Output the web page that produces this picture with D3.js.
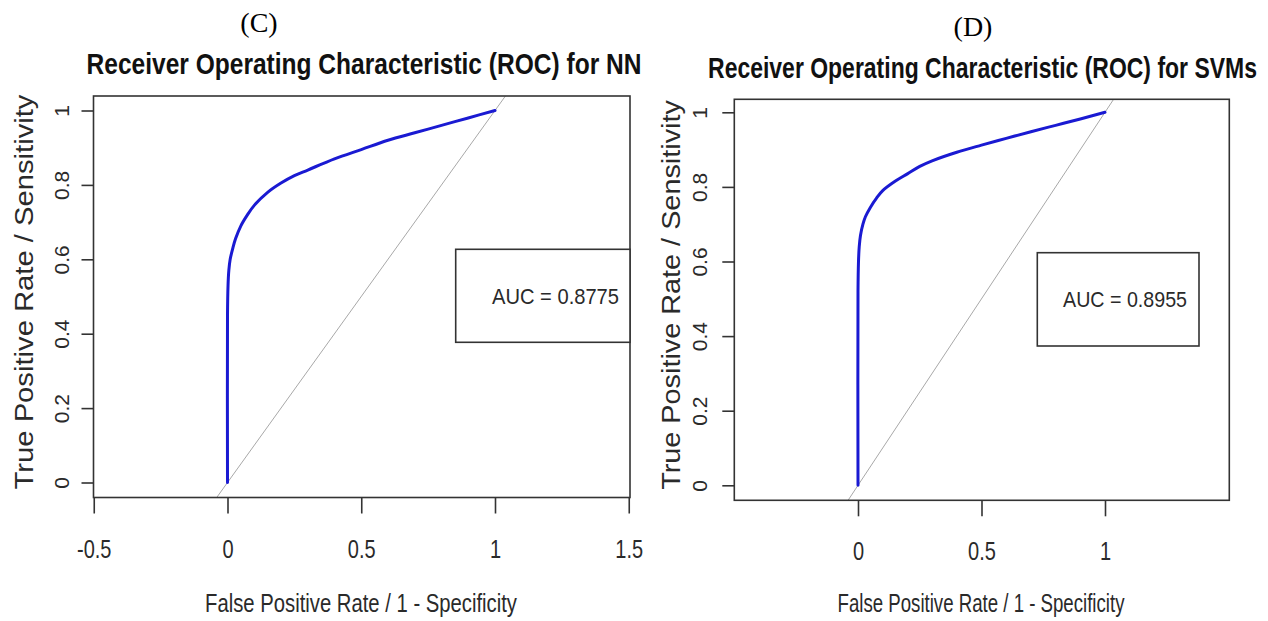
<!DOCTYPE html>
<html><head><meta charset="utf-8">
<script src="https://cdn.jsdelivr.net/npm/d3@7"></script>
<style>body{margin:0;background:#fff;} svg{display:block;background:#fff}</style>
</head><body>
<svg id="chart" width="1268" height="621"></svg>
<script>
// ---- data ----
const panelLabels = ["(C)", "(D)"];
const titles = ["Receiver Operating Characteristic (ROC) for NN", "Receiver Operating Characteristic (ROC) for SVMs"];
const aucLabels = ["AUC = 0.8775", "AUC = 0.8955"];
const xAxisTitle = "False Positive Rate / 1 - Specificity";
const yAxisTitle = "True Positive Rate / Sensitivity";

const nnFpr = [0, 0, 0.002, 0.005, 0.01, 0.02, 0.03, 0.05, 0.075, 0.1, 0.15, 0.2, 0.25, 0.3, 0.4, 0.5, 0.6, 0.7, 0.8, 0.9, 1.0];
const nnTpr = [0, 0.45, 0.53, 0.57, 0.6, 0.63, 0.655, 0.69, 0.72, 0.745, 0.78, 0.805, 0.825, 0.84, 0.87, 0.895, 0.92, 0.94, 0.96, 0.98, 1.0];

const svmFpr = [0, 0, 0.002, 0.005, 0.01, 0.02, 0.03, 0.05, 0.075, 0.1, 0.15, 0.2, 0.25, 0.3, 0.4, 0.5, 0.6, 0.7, 0.8, 0.9, 1.0];
const svmTpr = [0, 0.52, 0.6, 0.64, 0.67, 0.7, 0.72, 0.745, 0.77, 0.79, 0.815, 0.835, 0.855, 0.87, 0.893, 0.912, 0.93, 0.948, 0.965, 0.982, 1.0];

const xTicksNN = [-0.5, 0, 0.5, 1, 1.5];
const xTicksSVM = [0, 0.5, 1];
const yTicks = [0, 0.2, 0.4, 0.6, 0.8, 1];

// ---- layout ----
const panels = [
  { label: panelLabels[0], title: titles[0], auc: aucLabels[0], fpr: nnFpr, tpr: nnTpr, xTicks: xTicksNN,
    box: {l: 93.5, r: 630, t: 96, b: 497.5}, px0: 227.5, px1: 495, py0: 482.5, py1: 110.5,
    labelX: 259, labelY: 32, titleX: 364, titleW: 555, titleY: 74,
    yTitleX: 33, yTitleCY: 292, yTitleLen: 395, yTickOff: 25,
    xTitleX: 361, xTitleLen: 312,
    legend: {l: 455.7, t: 249.3, r: 630, b: 342.3}, legendTextR: 619, legendTextW: 127 },
  { label: panelLabels[1], title: titles[1], auc: aucLabels[1], fpr: svmFpr, tpr: svmTpr, xTicks: xTicksSVM,
    box: {l: 734.3, r: 1229.3, t: 99.3, b: 500.3}, px0: 858, px1: 1105, py0: 485.3, py1: 112.3,
    labelX: 973, labelY: 36, titleX: 982.5, titleW: 549, titleY: 78,
    yTitleX: 680, yTitleCY: 295, yTitleLen: 390, yTickOff: 27,
    xTitleX: 981, xTitleLen: 287,
    legend: {l: 1037.3, t: 252.7, r: 1199, b: 346}, legendTextR: 1187, legendTextW: 124 }
];

const NARROW = "'Liberation Sans Narrow','Arial Narrow','Liberation Sans',Arial,sans-serif";
const REG = "'Liberation Sans',Arial,sans-serif";
const TXT = "#2a2a2a";

const svg = d3.select("#chart");

// place a text so that its rendered length equals targetLen, via a horizontal scale
function fitText(sel, tx, ty, rot, targetLen) {
  sel.attr("x", 0).attr("y", 0);
  const w = sel.node().getComputedTextLength();
  const k = w > 0 ? targetLen / w : 1;
  sel.attr("transform", `translate(${tx},${ty})` + (rot ? ` rotate(${rot})` : "") + ` scale(${k},1)`);
}

panels.forEach((p, i) => {
  const g = svg.append("g");
  const b = p.box;
  const xa = d3.scaleLinear().domain([0, 1]).range([p.px0, p.px1]);
  const ya = d3.scaleLinear().domain([0, 1]).range([p.py0, p.py1]);
  const x = d3.scaleLinear().domain([xa.invert(b.l), xa.invert(b.r)]).range([b.l, b.r]);
  const y = d3.scaleLinear().domain([ya.invert(b.b), ya.invert(b.t)]).range([b.b, b.t]);

  const clipId = "clip" + i;
  svg.append("defs").append("clipPath").attr("id", clipId)
    .append("rect").attr("x", b.l).attr("y", b.t).attr("width", b.r - b.l).attr("height", b.b - b.t);

  // diagonal reference line
  const [ylo, yhi] = y.domain();
  g.append("line").attr("clip-path", `url(#${clipId})`)
    .attr("x1", x(ylo)).attr("y1", y(ylo)).attr("x2", x(yhi)).attr("y2", y(yhi))
    .attr("stroke", "#a8a8a8").attr("stroke-width", 1);

  // ROC curve
  const pts = p.fpr.map((f, k) => [f, p.tpr[k]]);
  g.append("path").datum(pts)
    .attr("d", d3.line().x(d => x(d[0])).y(d => y(d[1])).curve(d3.curveCatmullRom.alpha(0.5)))
    .attr("fill", "none").attr("stroke", "#1a1ad2").attr("stroke-width", 3)
    .attr("stroke-linejoin", "round").attr("stroke-linecap", "round");

  // plot box
  g.append("rect").attr("x", b.l).attr("y", b.t).attr("width", b.r - b.l).attr("height", b.b - b.t)
    .attr("fill", "none").attr("stroke", "#333").attr("stroke-width", 1.6);

  // x axis
  const xAxis = g.append("g").attr("transform", `translate(0,${b.b})`)
    .call(d3.axisBottom(x).tickValues(p.xTicks).tickSize(16).tickSizeOuter(0)
      .tickFormat(d => String(d)));
  xAxis.select(".domain").remove();
  xAxis.selectAll(".tick line").attr("stroke", "#333").attr("stroke-width", 1.6);
  xAxis.selectAll(".tick text").attr("font-family", REG).attr("font-size", 25).attr("fill", TXT)
    .attr("dy", 0).attr("y", 0).attr("transform", "translate(0,60) scale(0.8,1)");

  // y axis
  const yAxis = g.append("g").attr("transform", `translate(${b.l},0)`)
    .call(d3.axisLeft(y).tickValues(yTicks).tickSize(12).tickSizeOuter(0).tickFormat(d => String(d)));
  yAxis.select(".domain").remove();
  yAxis.selectAll(".tick line").attr("stroke", "#333").attr("stroke-width", 1.6);
  yAxis.selectAll(".tick text").attr("font-family", REG).attr("font-size", 21).attr("fill", TXT)
    .attr("text-anchor", "middle").attr("transform", "rotate(-90)")
    .attr("x", 0).attr("dy", 0).attr("y", -p.yTickOff);

  // axis titles
  const xt = g.append("text").attr("text-anchor", "middle")
    .attr("font-family", REG).attr("font-size", 25).attr("fill", TXT).text(xAxisTitle);
  fitText(xt, p.xTitleX, 612, 0, p.xTitleLen);
  const yt = g.append("text").attr("text-anchor", "middle")
    .attr("font-family", REG).attr("font-size", 26).attr("fill", TXT).text(yAxisTitle);
  fitText(yt, p.yTitleX, p.yTitleCY, -90, p.yTitleLen);

  // main title
  const tt = g.append("text").attr("text-anchor", "middle")
    .attr("font-family", REG).attr("font-weight", "bold").attr("font-size", 29).attr("fill", "#111")
    .text(p.title);
  fitText(tt, p.titleX, p.titleY, 0, p.titleW);

  // panel label
  g.append("text").attr("x", p.labelX).attr("y", p.labelY).attr("text-anchor", "middle")
    .attr("font-family", "'Liberation Serif','Times New Roman',serif").attr("font-size", 28).attr("fill", "#000")
    .text(p.label);

  // legend box
  const L = p.legend;
  g.append("rect").attr("x", L.l).attr("y", L.t).attr("width", L.r - L.l).attr("height", L.b - L.t)
    .attr("fill", "#fff").attr("stroke", "#333").attr("stroke-width", 1.6);
  const at = g.append("text").attr("text-anchor", "end")
    .attr("font-family", REG).attr("font-size", 22).attr("fill", TXT).text(p.auc);
  fitText(at, p.legendTextR, (L.t + L.b) / 2 + 8, 0, p.legendTextW);
});
</script>
</body></html>
